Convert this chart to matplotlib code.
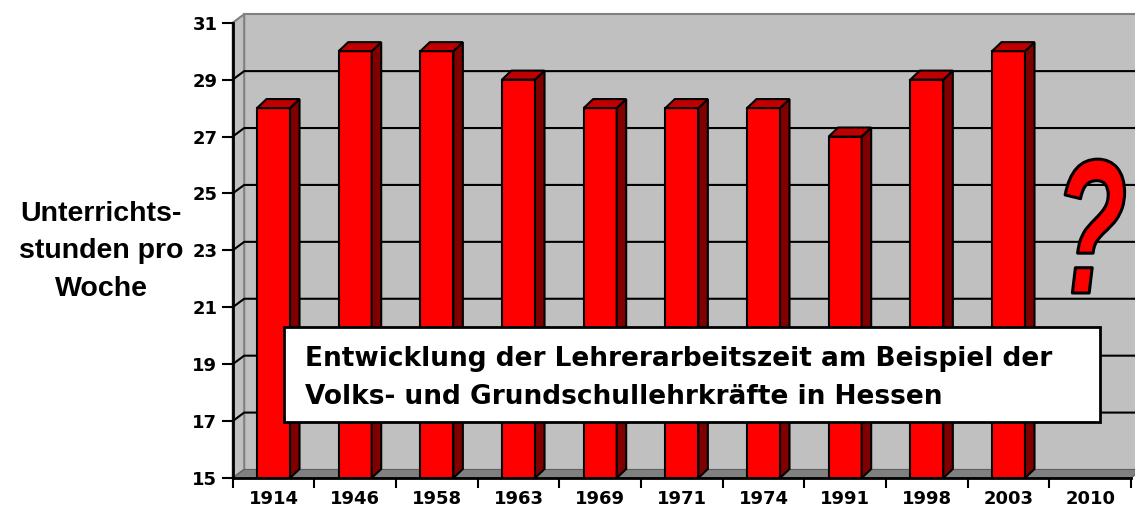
import matplotlib
matplotlib.use("Agg")
import matplotlib.pyplot as plt
from matplotlib.patches import Polygon, Rectangle
from matplotlib.transforms import Affine2D
import matplotlib.patheffects as pe

plt.rcParams['font.family'] = ['Liberation Sans', 'DejaVu Sans']

# ---- data ----
years = ['1914', '1946', '1958', '1963', '1969', '1971', '1974', '1991', '1998', '2003', '2010']
hours = [28, 30, 30, 29, 28, 28, 28, 27, 29, 30, None]
yticks = [15, 17, 19, 21, 23, 25, 27, 29, 31]
ylabel_lines = ['Unterrichts-', 'stunden pro', 'Woche']
title_lines = ['Entwicklung der Lehrerarbeitszeit am Beispiel der',
               'Volks- und Grundschullehrkräfte in Hessen']
ymin, ymax = 15, 31

WIDE = ['DejaVu Sans']

W, H = 1135, 513
fig = plt.figure(figsize=(W / 100, H / 100), dpi=100)
fig.patch.set_facecolor('white')

ax_l, ax_r, ax_b, ax_t = 232.7, 1131.0, 478.0, 22.7
ax = fig.add_axes([ax_l / W, (H - ax_b) / H, (ax_r - ax_l) / W, (ax_b - ax_t) / H])
n = len(years)
ax.set_xlim(0, n)
ax.set_ylim(ymin, ymax)
ax.set_facecolor('none')

px_x = (ax_r - ax_l) / n
px_y = (ax_b - ax_t) / (ymax - ymin)

wdx, wdy = 11.5 / px_x, 8.5 / px_y
bdx, bdy = 9.5 / px_x, 9.0 / px_y

wall_c = '#C0C0C0'
floor_c = '#808080'

ax.add_patch(Rectangle((wdx, ymin + wdy), n + 1, ymax - ymin, facecolor=wall_c,
                       edgecolor=floor_c, lw=1.5, clip_on=False, zorder=0.5))
ax.add_patch(Polygon([(0, ymin), (wdx, ymin + wdy), (wdx, ymax + wdy), (0, ymax)],
                     closed=True, facecolor=wall_c, edgecolor=floor_c, lw=1.5,
                     clip_on=False, zorder=0.5))
ax.add_patch(Polygon([(0, ymin), (n, ymin), (n + wdx, ymin + wdy), (wdx, ymin + wdy)],
                     closed=True, facecolor=floor_c, edgecolor='#606060', lw=0.8,
                     clip_on=False, zorder=0.6))

for yv in yticks[1:-1]:
    ax.plot([0, wdx, n + 1], [yv, yv + wdy, yv + wdy], color='black', lw=1.5,
            clip_on=False, zorder=0.7, solid_capstyle='butt')

centers = [i + 0.5 for i in range(n)]
bw = 33.0 / px_x
vals = [v for v in hours if v is not None]
xs = [c for c, v in zip(centers, hours) if v is not None]
bars = ax.bar(xs, [v - ymin for v in vals], bottom=ymin, width=bw, color='#FF0000',
              edgecolor='black', linewidth=1.5, zorder=2)
for rect in bars:
    x0 = rect.get_x()
    x1 = x0 + rect.get_width()
    y0 = rect.get_y()
    y1 = y0 + rect.get_height()
    ax.add_patch(Polygon([(x1, y0), (x1 + bdx, y0 + bdy), (x1 + bdx, y1 + bdy), (x1, y1)],
                         closed=True, facecolor='#800000', edgecolor='black', lw=1.5, zorder=2))
    ax.add_patch(Polygon([(x0, y1), (x1, y1), (x1 + bdx, y1 + bdy), (x0 + bdx, y1 + bdy)],
                         closed=True, facecolor='#C00000', edgecolor='black', lw=1.5, zorder=2))

for s in ['top', 'right']:
    ax.spines[s].set_visible(False)
for s in ['left', 'bottom']:
    ax.spines[s].set_linewidth(2)
    ax.spines[s].set_zorder(3)

ax.set_yticks(yticks)
ax.set_yticklabels([str(t) for t in yticks], fontweight='bold', fontsize=13, family=WIDE)
ax.tick_params(axis='y', direction='out', length=8, width=1.5, pad=3)

ax.set_xticks(range(n + 1))
ax.set_xticklabels([])
ax.set_xticks(centers, minor=True)
ax.set_xticklabels(years, minor=True, fontweight='bold', fontsize=13, family=WIDE)
ax.tick_params(axis='x', which='major', direction='out', length=7, width=1.5)
ax.tick_params(axis='x', which='minor', length=0, pad=8.5)

for txt, yb in zip(ylabel_lines, [221, 258.5, 296]):
    fig.text(101 / W, 1 - yb / H, txt, ha='center', va='baseline',
             fontsize=20.5, fontweight='bold')

bx0 = (284 - ax_l) / px_x
bx1 = (1100 - ax_l) / px_x
by0 = ymin + (ax_b - 422) / px_y
by1 = ymin + (ax_b - 327) / px_y
ax.add_patch(Rectangle((bx0, by0), bx1 - bx0, by1 - by0, facecolor='white',
                       edgecolor='black', lw=2, zorder=5, clip_on=False))
for txt, yb in zip(title_lines, [366, 404]):
    ax.text((305 - ax_l) / px_x, ymin + (ax_b - yb) / px_y, txt, ha='left',
            va='baseline', fontsize=19, fontweight='bold', family=WIDE, zorder=6)

# question mark (narrow, italic, outlined); anchored at its right edge
qx = (1127 - ax_l) / px_x
qy = ymin + (ax_b - 293) / px_y


class SqueezeStroke(pe.Stroke):
    def __init__(self, sx, **kw):
        super().__init__(**kw)
        self.sx = sx

    def _offset_transform(self, renderer):
        cx, cy = ax.transData.transform((qx, qy))
        return Affine2D().translate(-cx, -cy).scale(self.sx, 1.0).translate(cx, cy)


ax.text(qx, qy, '?', ha='right', va='baseline', fontsize=138, fontweight='bold',
        fontstyle='italic', family=['Liberation Sans'], color='#FF0000', zorder=3,
        path_effects=[SqueezeStroke(0.62, linewidth=2.2, foreground='black')])

fig.savefig('out.png', dpi=100, facecolor='white')
